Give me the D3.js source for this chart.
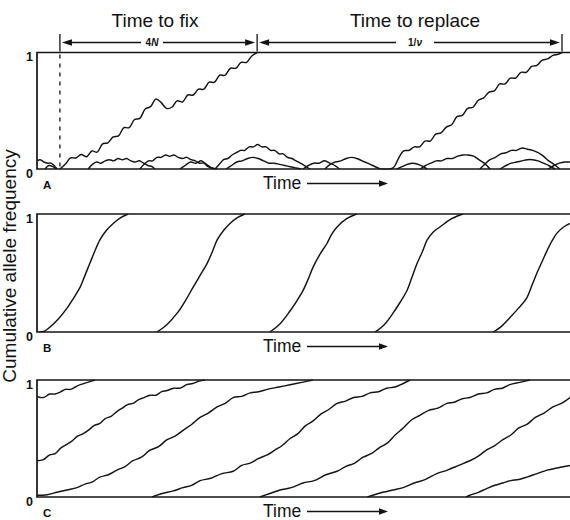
<!DOCTYPE html>
<html><head><meta charset="utf-8">
<script src="https://cdn.jsdelivr.net/npm/d3@7"></script>
<style>
body{margin:0;background:#fff}
text{font-family:"Liberation Sans",Arial,Helvetica,sans-serif;fill:#111}
</style>
</head><body>
<svg id="c" width="570" height="520"></svg>
<script>
// ---------- text ----------
const panelLetters = ["A", "B", "C"];
const yTickLabels = ["0", "1"];
const axisLabel = "Cumulative allele frequency";
const timeLabel = "Time";
const topLabels = ["Time to fix", "Time to replace"];
const spanLabels = [["4", "N"], ["1/", "ν"]];
// time markers in panel A: origin of the fixing allele, its fixation, next fixation
const markerTimes = [4.3, 41.3, 98.5];

// ---------- data: [time, cumulative frequency] ----------
// Panel A: low mutation rate, neutral drift
const A_fix1 = [[4.3,0],[5.3,0.04],[6.3,0.095],[7.3,0.095],[8.3,0.125],[9.3,0.105],[10.3,0.155],[11.3,0.145],[12.3,0.215],[13.3,0.225],[14.3,0.275],[15.3,0.285],[16.3,0.355],[17.3,0.355],[18.3,0.425],[19.3,0.435],[20.3,0.515],[21.3,0.535],[22.3,0.6],[23.3,0.57],[24.3,0.52],[25.3,0.53],[26.3,0.585],[27.3,0.575],[28.3,0.635],[29.3,0.635],[30.3,0.685],[31.3,0.685],[32.3,0.745],[33.3,0.745],[34.3,0.805],[35.3,0.805],[36.3,0.865],[37.3,0.865],[38.3,0.915],[39.3,0.915],[40.3,0.97],[41.3,1]];
const A_fix2 = [[64.5,0],[66.8,0.01],[67.8,0.09],[68.8,0.155],[69.8,0.16],[70.8,0.19],[71.8,0.19],[72.8,0.24],[73.8,0.24],[74.8,0.30],[75.8,0.31],[76.8,0.36],[77.8,0.38],[78.8,0.45],[79.8,0.46],[80.8,0.52],[81.8,0.53],[82.8,0.59],[83.8,0.61],[84.8,0.66],[85.8,0.67],[86.8,0.73],[87.8,0.73],[88.8,0.78],[89.8,0.78],[90.8,0.83],[91.8,0.83],[92.8,0.88],[93.8,0.89],[94.8,0.935],[95.8,0.945],[96.8,0.975],[97.8,0.985],[98.5,1]];
const A_lost1 = [[0,0.07],[0.6,0.08],[1.3,0.06],[2.0,0.05],[2.6,0.05],[3.2,0.03],[3.8,0.0]];
const A_lost2 = [[1.5,0.0],[2.2,0.03],[3.0,0.02],[3.6,0]];
const A_lost3 = [[9.6,0],[10.4,0.04],[11.2,0.06],[12.0,0.05],[12.8,0.07],[13.6,0.08],[14.4,0.07],[15.2,0.09],[16.0,0.08],[16.8,0.09],[17.6,0.07],[18.4,0.06],[19.2,0.07],[20.0,0.05],[20.8,0.03],[21.6,0.02],[22.1,0]];
const A_lost4 = [[19.3,0],[20.1,0.04],[20.9,0.07],[21.7,0.07],[22.5,0.10],[23.3,0.10],[24.1,0.12],[24.9,0.11],[25.7,0.12],[26.5,0.10],[27.3,0.09],[28.1,0.10],[28.9,0.08],[29.7,0.07],[30.5,0.05],[31.3,0.05],[32.1,0.02],[33.4,0]];
const A_lost5 = [[26.8,0],[27.8,0.03],[28.8,0.06],[29.8,0.05],[30.8,0.07],[31.8,0.04],[32.8,0.01],[33.8,0]];
const A_lost6 = [[33.4,0],[34.2,0.04],[35.0,0.08],[35.8,0.09],[36.6,0.12],[37.4,0.14],[38.2,0.16],[39.0,0.16],[39.8,0.19],[40.6,0.19],[41.4,0.21],[42.2,0.19],[43.0,0.19],[43.8,0.16],[44.6,0.16],[45.4,0.13],[46.2,0.13],[47.0,0.10],[47.8,0.09],[48.6,0.07],[49.4,0.05],[50.2,0.03],[51.2,0]];
const A_lost7 = [[35.5,0],[36.5,0.03],[37.5,0.06],[38.5,0.07],[39.5,0.09],[40.5,0.10],[41.5,0.09],[42.5,0.07],[43.5,0.05],[44.5,0.05],[45.5,0.04],[46.5,0.03],[47.5,0.02],[48.5,0.01],[49.5,0]];
const A_lost8 = [[49.9,0],[50.9,0.03],[51.9,0.05],[52.9,0.05],[53.9,0.07],[54.9,0.05],[55.9,0.03],[56.8,0]];
const A_lost9 = [[54,0],[55,0.04],[56,0.06],[57,0.07],[58,0.09],[59,0.10],[60,0.09],[61,0.07],[62,0.05],[63,0.03],[64.4,0]];
const A_lost10 = [[67.5,0],[68.5,0.02],[69.5,0.04],[70.5,0.05],[71.5,0.04],[72.5,0.02],[73.2,0]];
const A_lost11 = [[71.9,0],[72.9,0.03],[73.9,0.05],[74.9,0.07],[75.9,0.07],[76.9,0.09],[77.9,0.09],[78.9,0.11],[79.9,0.12],[80.9,0.12],[81.9,0.11],[82.9,0.08],[83.9,0.05],[85,0]];
const A_lost12 = [[83.1,0],[84,0.04],[85,0.08],[86,0.10],[87,0.13],[88,0.14],[89,0.16],[90,0.16],[91,0.18],[92,0.17],[93,0.16],[94,0.14],[95,0.11],[96,0.07],[97,0.04],[98.1,0]];
const A_lost13 = [[86.9,0],[88,0.03],[89,0.05],[90,0.06],[91,0.07],[92,0.08],[93,0.08],[94,0.07],[95,0.05],[96,0.03],[97.2,0]];
const A_lost14 = [[95.9,0],[97,0.03],[98,0.05],[99,0.06],[100,0.06]];

// Panel B: advantageous substitutions
const B_1 = [[0.4,0],[1.5,0.01],[2.4,0.04],[4,0.11],[5.6,0.2],[6.9,0.29],[8.1,0.38],[9,0.48],[9.9,0.58],[10.8,0.68],[11.8,0.78],[13,0.86],[14.3,0.92],[15.7,0.97],[17.1,1]];
const B_2 = [[22.5,0],[24.3,0.06],[26.3,0.16],[27.9,0.27],[29.3,0.38],[30.6,0.48],[31.9,0.58],[32.9,0.68],[33.8,0.78],[35,0.86],[36.2,0.92],[37.6,0.97],[39,1]];
const B_3 = [[43.7,0],[45.6,0.07],[47.5,0.18],[48.7,0.26],[49.9,0.35],[50.9,0.45],[51.8,0.55],[53.1,0.66],[54.4,0.75],[55.3,0.83],[56.3,0.89],[58.1,0.96],[60,1]];
const B_4 = [[63.4,0],[65.1,0.06],[66.8,0.16],[68.1,0.25],[69.4,0.35],[70.4,0.47],[71.3,0.58],[72.3,0.68],[73.2,0.78],[74.4,0.85],[75.6,0.89],[77.8,0.96],[79.9,1]];
const B_5 = [[85.6,0],[87.2,0.05],[88.7,0.12],[90.3,0.2],[91.9,0.29],[92.9,0.4],[93.8,0.5],[94.8,0.6],[95.7,0.69],[96.6,0.77],[97.6,0.84],[98.8,0.89],[100,0.92]];

// Panel C: high mutation rate, overlapping trajectories
const C_1 = [[0,0.86],[1.2,0.85],[2.4,0.88],[3.4,0.88],[4.5,0.9],[5.3,0.92],[6.3,0.92],[7.2,0.94],[8.1,0.96],[9.5,0.98],[10.9,1]];
const C_2 = [[0,0.31],[1.2,0.32],[2.4,0.36],[3.4,0.37],[4.5,0.42],[5.6,0.45],[6.6,0.48],[7.6,0.52],[8.6,0.54],[9.6,0.57],[10.7,0.61],[11.8,0.63],[12.8,0.67],[13.9,0.69],[15,0.73],[16,0.76],[17,0.79],[18,0.80],[19,0.83],[20.1,0.85],[21.2,0.87],[22.3,0.87],[23.4,0.90],[24.4,0.91],[25.6,0.93],[26.8,0.93],[28.1,0.96],[29.2,0.97],[30.4,0.99],[31.5,1]];
const C_3 = [[0,0.015],[1.9,0.02],[3.75,0.04],[5.6,0.06],[7.5,0.08],[9.0,0.11],[10.4,0.13],[11.8,0.17],[13.4,0.19],[15,0.23],[16.5,0.26],[18,0.31],[19.6,0.34],[21.2,0.40],[22.8,0.43],[24.4,0.49],[25.9,0.52],[27.4,0.57],[29,0.62],[30.6,0.68],[32.2,0.72],[33.8,0.77],[35.3,0.80],[36.8,0.85],[38.4,0.86],[40,0.89],[41.6,0.90],[43.2,0.92],[45.4,0.94],[47.5,0.96],[49.7,0.98],[51.8,1]];
const C_4 = [[21.6,0],[23.5,0.03],[25.4,0.05],[27.4,0.08],[29,0.10],[30.6,0.14],[32.6,0.16],[34.7,0.2],[36.8,0.22],[38.4,0.27],[40,0.29],[41.6,0.33],[43.2,0.36],[44.6,0.40],[46,0.44],[47.5,0.5],[48.9,0.54],[50.4,0.61],[51.8,0.65],[53.3,0.71],[54.8,0.75],[56.3,0.8],[57.9,0.82],[59.4,0.85],[61,0.86],[62.5,0.89],[64.1,0.90],[65.6,0.93],[67.2,0.94],[68.7,0.97],[70,1]];
const C_5 = [[41.8,0],[43.7,0.03],[45.6,0.06],[47.7,0.08],[49.9,0.12],[52,0.14],[54.2,0.19],[56.3,0.22],[57.9,0.26],[59.6,0.29],[61.2,0.34],[62.7,0.37],[64.2,0.42],[65.7,0.46],[67.2,0.53],[68.7,0.59],[70.3,0.66],[71.9,0.70],[73.5,0.74],[75.2,0.76],[76.9,0.8],[78.3,0.81],[79.8,0.84],[81.2,0.85],[82.8,0.88],[84.4,0.89],[85.8,0.92],[87.3,0.93],[88.7,0.96],[90.6,0.98],[92.5,1]];
const C_6 = [[62,0],[63,0.015],[64.9,0.04],[66.8,0.06],[68.7,0.08],[70.8,0.12],[72.9,0.15],[75,0.2],[77,0.23],[79.1,0.27],[81.2,0.31],[82.8,0.35],[84.3,0.40],[85.9,0.44],[87.4,0.49],[88.9,0.53],[90.4,0.59],[91.9,0.62],[93.5,0.68],[95.2,0.72],[96.8,0.77],[98.4,0.80],[100,0.85]];
const C_7 = [[80.5,0],[81.2,0.015],[82.8,0.04],[84.3,0.07],[85.9,0.1],[87.4,0.12],[88.9,0.14],[90.4,0.15],[91.9,0.17],[93.8,0.2],[95.7,0.23],[97.8,0.25],[100,0.27]];

const panelSeries = [
  [A_fix1, A_fix2, A_lost1, A_lost2, A_lost3, A_lost4, A_lost5, A_lost6, A_lost7, A_lost8, A_lost9, A_lost10, A_lost11, A_lost12, A_lost13, A_lost14],
  [B_1, B_2, B_3, B_4, B_5],
  [C_1, C_2, C_3, C_4, C_5, C_6, C_7]
];

// ---------- layout ----------
const svg = d3.select("#c");
const ink = "#141414";
const x = d3.scaleLinear().domain([0, 100]).range([37, 570]);
const panels = [{top: 52.5, bottom: 169}, {top: 214, bottom: 332}, {top: 380, bottom: 497}];

panels.forEach((p, i) => {
  const y = d3.scaleLinear().domain([0, 1]).range([p.bottom, p.top]);
  const g = svg.append("g");
  const cid = "clip" + i;
  svg.append("clipPath").attr("id", cid).append("rect")
    .attr("x", x(0)).attr("y", y(1) - 0.5).attr("width", x(100) - x(0)).attr("height", y(0) - y(1) + 1);

  const line = d3.line().x(d => x(d[0])).y(d => y(d[1])).curve(d3.curveCatmullRom.alpha(0.5));
  g.append("g").attr("clip-path", `url(#${cid})`)
    .selectAll("path").data(panelSeries[i]).join("path")
    .attr("d", line).attr("fill", "none").attr("stroke", ink)
    .attr("stroke-width", 1.45).attr("stroke-linejoin", "round");

  // frame: left, top, bottom (open on the right)
  g.append("path")
    .attr("d", `M${x(100)},${y(1)}H${x(0)}V${y(0)}H${x(100)}`)
    .attr("fill", "none").attr("stroke", ink).attr("stroke-width", 1.7);

  // 0 / 1 labels
  g.selectAll("text.tick").data(yTickLabels).join("text").attr("class", "tick")
    .attr("x", x(0) - 4).attr("y", d => y(+d) + 8.5)
    .attr("text-anchor", "end").attr("font-size", 12.5).attr("font-weight", "bold").text(d => d);

  // panel letter
  g.append("text").attr("x", x(0) + 6).attr("y", y(0) + 19.5)
    .attr("font-size", 11.5).attr("font-weight", "bold").text(panelLetters[i]);

  // Time ->
  g.append("text").attr("x", 263).attr("y", y(0) + 19.5)
    .attr("font-size", 17.5).text(timeLabel);
  g.append("line").attr("x1", 307).attr("x2", 382).attr("y1", y(0) + 14.5).attr("y2", y(0) + 14.5)
    .attr("stroke", ink).attr("stroke-width", 1.3);
  g.append("path").attr("d", `M388,${y(0) + 14.5}l-9,-3.3v6.6z`).attr("fill", ink);

  if (i === 0) {
    const ya = 42.5;
    const xs = markerTimes.map(x);
    xs.forEach(px => {
      g.append("line").attr("x1", px).attr("x2", px).attr("y1", 34).attr("y2", y(1) - 1)
        .attr("stroke", ink).attr("stroke-width", 1.3);
    });
    g.append("line").attr("x1", xs[0]).attr("x2", xs[0]).attr("y1", y(1) + 2).attr("y2", y(0))
      .attr("stroke", ink).attr("stroke-width", 1.3).attr("stroke-dasharray", "4,5");
    const spans = [[xs[0], xs[1], 152], [xs[1], xs[2], 415]];
    spans.forEach(([a, b, c], k) => {
      const gap = k === 0 ? 11 : 19;
      g.append("line").attr("x1", a + 6).attr("x2", c - gap).attr("y1", ya).attr("y2", ya)
        .attr("stroke", ink).attr("stroke-width", 1.3);
      g.append("line").attr("x1", c + gap).attr("x2", b - 6).attr("y1", ya).attr("y2", ya)
        .attr("stroke", ink).attr("stroke-width", 1.3);
      g.append("path").attr("d", `M${a + 2},${ya}l10,-3.2v6.4z`).attr("fill", ink);
      g.append("path").attr("d", `M${b - 2},${ya}l-10,-3.2v6.4z`).attr("fill", ink);
      const t = g.append("text").attr("x", c).attr("y", ya + 3.5).attr("text-anchor", "middle")
        .attr("font-size", 10).attr("font-weight", "bold");
      t.append("tspan").text(spanLabels[k][0]);
      t.append("tspan").attr("font-style", "italic").text(spanLabels[k][1]);
      svg.append("text").attr("x", [155, 415][k]).attr("y", 27).attr("text-anchor", "middle")
        .attr("font-size", 19).text(topLabels[k]);
    });
  }
});

svg.append("text").attr("transform", "translate(16,266) rotate(-90)")
  .attr("text-anchor", "middle").attr("font-size", 19).text(axisLabel);
</script>
</body></html>
